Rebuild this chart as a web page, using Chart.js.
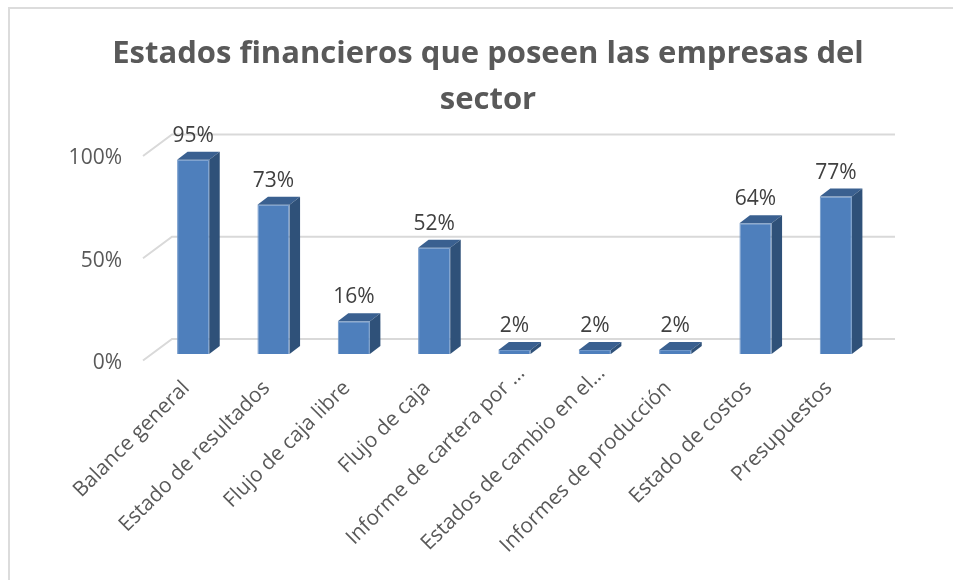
<!DOCTYPE html>
<html>
<head>
<meta charset="utf-8">
<style>
	html, body { margin: 0; padding: 0; background: #fff; }
	#caja { position: relative; width: 953px; height: 580px; overflow: hidden; }
	#borde { position: absolute; left: 8px; top: 7px; width: 960px; height: 600px; border: 2px solid #dcdcdc; box-sizing: border-box; }
	canvas { position: absolute; left: 0; top: 0; }
</style>
<script src="https://cdn.jsdelivr.net/npm/chart.js@4"></script>
</head>
<body>
<div id="caja">
	<div id="borde"></div>
	<canvas id="myChart" width="953" height="580"></canvas>
</div>
<script>
(function () {

	const categorias = [
		'Balance general',
		'Estado de resultados',
		'Flujo de caja libre',
		'Flujo de caja',
		'Informe de cartera por …',
		'Estados de cambio en el…',
		'Informes de producción',
		'Estado de costos',
		'Presupuestos'
	];
	const valores = [95, 73, 16, 52, 2, 2, 2, 64, 77];
	const marcasY = [0, 50, 100];
	const titulo = ['Estados financieros que poseen las empresas del', 'sector'];

	const fuente = '"Open Sans", sans-serif';

	// el eje queda en el plano frontal, las barras y la pared se corren hacia atras
	const barra3d = { dx: 10.5, dy: 8, subir: 9 };
	const pared = { atras: 19, adelante: 10, frente: 2.5, alto: 24 };

	// las etiquetas recortadas con puntos quedan mas arriba en el original
	const corrimientoRecortadas = { dx: 14, dy: -15 };

	const efecto3d = {
		id: 'efecto3d',
		beforeDraw(chart) {
			chart.scales.x.getLabelItems().forEach(item => {
				if (item.label.endsWith('…')) {
					item.options.translation[0] += corrimientoRecortadas.dx;
					item.options.translation[1] += corrimientoRecortadas.dy;
				}
			});
		},
		beforeDatasetsDraw(chart) {
			const { ctx, chartArea, scales } = chart;
			ctx.save();
			ctx.strokeStyle = '#d9d9d9';
			ctx.lineWidth = 2;
			marcasY.forEach(v => {
				const y = scales.y.getPixelForValue(v);
				ctx.beginPath();
				ctx.moveTo(chartArea.left - pared.adelante, y - pared.frente);
				ctx.lineTo(chartArea.left + pared.atras, y - pared.alto);
				ctx.lineTo(chartArea.right + pared.atras, y - pared.alto);
				ctx.stroke();
			});
			ctx.restore();
			ctx.save();
			ctx.translate(0, -barra3d.subir);
		},
		afterDatasetsDraw(chart) {
			const { ctx } = chart;
			chart.getDatasetMeta(0).data.forEach((barra, i) => {
				const izq = barra.x - barra.width / 2;
				const der = barra.x + barra.width / 2;
				const { dx, dy } = barra3d;

				ctx.fillStyle = '#3a6090';
				ctx.beginPath();
				ctx.moveTo(izq, barra.y);
				ctx.lineTo(izq + dx, barra.y - dy);
				ctx.lineTo(der + dx, barra.y - dy);
				ctx.lineTo(der, barra.y);
				ctx.closePath();
				ctx.fill();

				ctx.fillStyle = '#2f5179';
				ctx.beginPath();
				ctx.moveTo(der, barra.y);
				ctx.lineTo(der + dx, barra.y - dy);
				ctx.lineTo(der + dx, barra.base - dy);
				ctx.lineTo(der, barra.base);
				ctx.closePath();
				ctx.fill();

				ctx.fillStyle = '#404040';
				ctx.font = '21px ' + fuente;
				ctx.textAlign = 'center';
				ctx.textBaseline = 'middle';
				ctx.fillText(valores[i] + '%', barra.x, barra.y - 24);
			});
			ctx.restore();
		}
	};

	new Chart(document.getElementById('myChart'), {
		type: 'bar',
		data: {
			labels: categorias,
			datasets: [{
				data: valores,
				backgroundColor: '#4e7fbc',
				borderColor: '#6f97c9',
				borderWidth: 1,
				barPercentage: 0.4,
				categoryPercentage: 1
			}]
		},
		plugins: [efecto3d],
		options: {
			responsive: false,
			animation: false,
			layout: { padding: { left: 30, right: 7, top: 31, bottom: 0 } },
			plugins: {
				legend: { display: false },
				tooltip: { enabled: false },
				title: {
					display: true,
					text: titulo,
					color: '#595959',
					font: { family: fuente, size: 31, weight: 'bold', lineHeight: 1.484 },
					padding: { top: 0, bottom: 35.5 }
				}
			},
			scales: {
				x: {
					grid: { display: false },
					border: { display: false },
					afterFit(eje) { eje.height = 217; },
					ticks: {
						autoSkip: false,
						minRotation: 45,
						maxRotation: 45,
						padding: 5,
						labelOffset: -7,
						color: '#595959',
						font: { family: fuente, size: 20.8 }
					}
				},
				y: {
					min: 0,
					max: 100,
					grid: { display: false },
					border: { display: false },
					afterFit(eje) { eje.width = 123; },
					afterBuildTicks(eje) { eje.ticks = marcasY.map(v => ({ value: v })); },
					ticks: {
						padding: 23,
						color: '#595959',
						font: { family: fuente, size: 21 },
						callback: valor => valor + '%'
					}
				},
				// solo reserva el margen derecho sin mover el titulo
				margen: {
					position: 'right',
					grid: { display: false },
					border: { display: false },
					ticks: { display: false },
					afterFit(eje) { eje.width = 70; }
				}
			}
		}
	});

})();
</script>
</body>
</html>
